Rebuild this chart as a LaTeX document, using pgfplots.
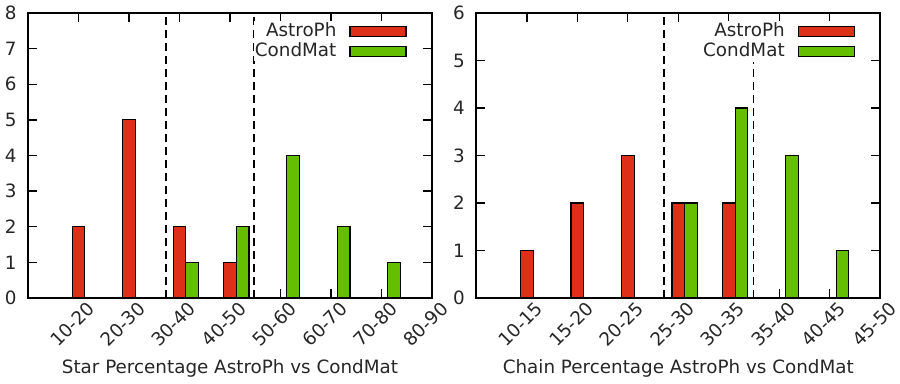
\documentclass[border=0pt]{standalone}
\usepackage{pgfplots}
\pgfplotsset{compat=1.18}
\usepackage{fontspec}
\setmainfont{DejaVu Sans}
\definecolor{barred}{RGB}{222,48,24}
\definecolor{bargreen}{RGB}{102,190,0}
\pgfplotsset{
  hist/.style={
    scale only axis, width=202bp, height=142.5bp,
    axis line style={line width=0.9bp},
    tick style={line width=0.7bp, black},
    major tick length=4.5bp,
    tick align=inside,
    xtick={1,...,8}, xmin=0, xmax=8, ymin=0,
    ytick distance=1,
    /pgf/number format/assume math mode=true,
    tick label style={font=\fontsize{9.2}{11}\selectfont, text=black!85},
    yticklabel style={inner sep=0pt, xshift=-5.5bp},
    xticklabel style={xshift=6.5bp, yshift=-3.5bp, rotate=45, anchor=east, inner sep=0pt},
    xlabel style={at={(axis description cs:0.5,0)}, anchor=base, yshift=-37.5bp, font=\fontsize{9.2}{11}\selectfont, text=black!85},
    legend plot pos=right,
    legend cell align=right,
    legend style={draw=none, fill=white, inner sep=0pt, at={(rel axis cs:1,1)}, anchor=north east,
      xshift=-12.5bp, yshift=-4bp, row sep=0pt, column sep=6bp,
      nodes={inner sep=0.5bp, text height=7bp, text depth=2bp},
      font=\fontsize{9.2}{11}\selectfont, text=black!85},
  },
  swatch/.style={legend image code/.code={\draw[##1, draw=black, line width=0.6bp] (0bp,-2.4bp) rectangle (28bp,2.4bp);}},
  red bars/.style={ybar, bar width=0.25, bar shift=0, fill=barred, draw=black, line width=0.6bp, swatch},
  green bars/.style={ybar, bar width=0.25, bar shift=0, fill=bargreen, draw=black, line width=0.6bp, swatch},
  vdash/.style={black, line width=0.9bp, dash pattern=on 4bp off 2.5bp, forget plot},
}
\begin{document}
\begin{tikzpicture}
\useasboundingbox (-14bp,-43bp) rectangle (436bp,149bp);
\begin{axis}[hist, ymax=8,
  xticklabels={10-20,20-30,30-40,40-50,50-60,60-70,70-80,80-90},
  xlabel={Star Percentage AstroPh vs CondMat}]
\addplot[vdash] coordinates {(2.73,0) (2.73,8)};
\addplot[vdash] coordinates {(4.475,0) (4.475,8)};
\addplot[red bars] coordinates {(1,2) (2,5) (3,2) (4,1)};
\addlegendentry{AstroPh}
\addplot[green bars] coordinates {(3.25,1) (4.25,2) (5.25,4) (6.25,2) (7.25,1)};
\addlegendentry{CondMat}
\end{axis}
\begin{axis}[hist, ymax=6, xshift=224.15bp,
  xticklabels={10-15,15-20,20-25,25-30,30-35,35-40,40-45,45-50},
  xlabel={Chain Percentage AstroPh vs CondMat}]
\addplot[vdash] coordinates {(3.71,0) (3.71,6)};
\addplot[vdash] coordinates {(5.49,0) (5.49,4.97)};
\addplot[red bars] coordinates {(1,1) (2,2) (3,3) (4,2) (5,2)};
\addlegendentry{AstroPh}
\addplot[green bars] coordinates {(4.25,2) (5.25,4) (6.25,3) (7.25,1)};
\addlegendentry{CondMat}
\end{axis}
\end{tikzpicture}
\end{document}
